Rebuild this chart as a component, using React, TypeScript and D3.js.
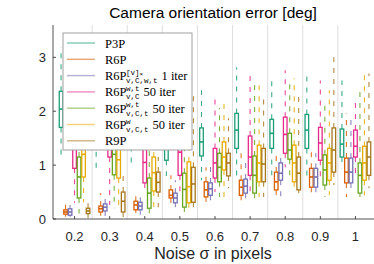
import React from "react"
import * as d3 from "d3"

// noise levels (x groups)
const noiseLevels = ["0.2", "0.3", "0.4", "0.5", "0.6", "0.7", "0.8", "0.9", "1"]
const methodKeys = ["p3p", "r6p", "r6pv", "r6pwt", "r6pwtc", "r6pw", "r9p"]
const methodColors = ["#1b9e77", "#d95f02", "#7570b3", "#e7298a", "#66a61e", "#e6ab02", "#a6761d"]
const yTicks = [0, 1, 2, 3]

// [whisker low, q1, median, q3, whisker high] per noise level
const p3pStats = [
  [1.09, 1.7, 2.04, 2.37, 3.19], [0.85, 1.45, 1.8, 2.1, 2.9], [1.05, 1.55, 1.9, 2.2, 3.0],
  [0.8, 1.09, 1.4, 1.7, 2.5], [0.72, 1.17, 1.43, 1.69, 2.39], [0.76, 1.31, 1.65, 1.96, 2.81],
  [0.81, 1.31, 1.59, 1.85, 2.57], [0.72, 1.31, 1.65, 1.94, 2.7], [0.94, 1.15, 1.39, 1.67, 2.57],
]
const r6pStats = [
  [0.04, 0.09, 0.13, 0.17, 0.31], [0.06, 0.13, 0.19, 0.24, 0.48], [0.11, 0.17, 0.26, 0.33, 0.5],
  [0.26, 0.39, 0.44, 0.54, 0.81], [0.26, 0.41, 0.54, 0.69, 0.96], [0.31, 0.44, 0.59, 0.72, 1.28],
  [0.35, 0.54, 0.69, 0.87, 1.22], [0.44, 0.59, 0.78, 0.94, 1.28], [0.41, 0.67, 0.87, 1.13, 1.96],
]
const r6pvStats = [
  [0.04, 0.07, 0.13, 0.19, 0.26], [0.04, 0.15, 0.22, 0.28, 0.44], [0.07, 0.17, 0.24, 0.31, 0.44],
  [0.22, 0.3, 0.39, 0.48, 0.72], [0.26, 0.44, 0.56, 0.67, 1.04], [0.31, 0.48, 0.61, 0.74, 1.04],
  [0.39, 0.72, 0.85, 1.04, 1.22], [0.44, 0.59, 0.78, 0.94, 1.22], [0.48, 0.67, 0.87, 1.13, 1.89],
]
const r6pwtStats = [
  [0.3, 0.94, 1.3, 1.6, 2.5], [0.26, 1.15, 1.5, 1.8, 2.6], [0.5, 0.67, 1.05, 1.45, 2.4],
  [0.44, 0.81, 1.24, 1.41, 2.3], [0.5, 0.76, 1.04, 1.31, 2.3], [0.48, 0.81, 1.15, 1.54, 2.76],
  [0.96, 1.22, 1.57, 1.89, 2.76], [0.78, 1.09, 1.41, 1.7, 2.57], [0.81, 1.15, 1.35, 1.65, 2.26],
]
const r6pwtcStats = [
  [0.1, 0.39, 0.78, 1.15, 1.9], [0.2, 0.82, 1.2, 1.5, 2.2], [0.05, 0.2, 0.48, 0.76, 1.3],
  [0.13, 0.22, 0.55, 0.85, 1.83], [0.41, 0.69, 0.96, 1.22, 2.06], [0.31, 0.48, 0.81, 1.17, 2.52],
  [0.78, 1.11, 1.28, 1.59, 2.57], [0.41, 0.63, 0.91, 1.19, 2.17], [0.41, 0.48, 0.81, 1.04, 2.43],
]
const r6pwStats = [
  [0.31, 0.78, 1.2, 1.55, 2.3], [0.26, 0.76, 1.1, 1.5, 2.3], [0.2, 0.52, 0.86, 1.15, 1.8],
  [0.17, 0.3, 0.6, 1.06, 1.9], [0.41, 0.91, 1.15, 1.43, 2.15], [0.41, 0.69, 1.04, 1.37, 2.57],
  [0.54, 0.69, 1.04, 1.37, 2.61], [0.44, 0.72, 1.04, 1.31, 2.39], [0.44, 0.72, 1.04, 1.35, 2.67],
]
const r9pStats = [
  [0.02, 0.1, 0.15, 0.2, 0.4], [0.03, 0.13, 0.33, 0.5, 0.8], [0.22, 0.5, 0.68, 0.87, 1.15],
  [0.2, 0.31, 0.65, 0.96, 2.35], [0.57, 0.8, 1.04, 1.22, 1.87], [0.41, 0.69, 1.02, 1.31, 2.3],
  [0.48, 0.54, 0.85, 1.15, 2.3], [0.63, 0.87, 1.28, 1.69, 3.0], [0.57, 0.81, 1.15, 1.43, 2.7],
]
const allStats = [p3pStats, r6pStats, r6pvStats, r6pwtStats, r6pwtcStats, r6pwStats, r9pStats]

// legend: base name, superscript, subscript, trailing text
const legendBase = ["P3P", "R6P", "R6P", "R6P", "R6P", "R6P", "R9P"]
const legendSup = ["", "", "[v]", "w,t", "w,t", "w", ""]
const legendSub = ["", "", "v,C,w,t", "v,C", "v,C,t", "v,C,t", ""]
const legendTail = ["", "", "1 iter", "50 iter", "50 iter", "50 iter", ""]

const W = 374
const H = 264
const margin = { top: 25, right: 1, bottom: 45, left: 53 }

const App: React.FC = () => {
  const x = d3.scaleBand().domain(noiseLevels).range([57, 373]).paddingInner(0)
  const inner = d3.scalePoint().domain(methodKeys).range([-13.5, 13.5])
  const y = d3.scaleLinear().domain([0, 3.6]).range([H - margin.bottom + 0, margin.top])
  const y0 = y(0)
  const boxW = 3.6
  const sans = "'Liberation Sans', Arial, sans-serif"
  const serif = "'Liberation Serif', 'DejaVu Serif', serif"
  const mono = "'Liberation Mono', 'DejaVu Sans Mono', monospace"

  const separators = noiseLevels.slice(1).map(g => x(g) as number)

  const lgX = 63, lgY = 33, lgW = 129, lgH = 117
  const rowStep = 16.3
  const monoW = 7.5 * 0.6

  return (
    <svg width={W} height={H} style={{ position: "absolute", left: 0, top: 0, background: "#fff" }}>
      {/* group separators */}
      {separators.map((sx, i) => (
        <line key={i} x1={sx} x2={sx} y1={margin.top} y2={y0} stroke="#dedede" strokeWidth={1} />
      ))}

      {/* box plots */}
      {methodKeys.map((m, mi) => (
        <g key={m} stroke={methodColors[mi]} fill="none">
          {allStats[mi].map((s, gi) => {
            const cx = (x(noiseLevels[gi]) as number) + x.bandwidth() / 2 + (inner(m) as number)
            const [lo, q1, med, q3, hi] = s
            return (
              <g key={gi}>
                <line x1={cx} x2={cx} y1={y(q3)} y2={y(hi)} strokeDasharray="5,6" strokeWidth={1.1} strokeOpacity={0.85} />
                <line x1={cx} x2={cx} y1={y(q1)} y2={y(lo)} strokeDasharray="5,6" strokeWidth={1.1} strokeOpacity={0.85} />
                <rect x={cx - boxW / 2} y={y(q3)} width={boxW} height={y(q1) - y(q3)} strokeWidth={1.3} />
                <line x1={cx - boxW / 2} x2={cx + boxW / 2} y1={y(med)} y2={y(med)} strokeWidth={1.6} />
              </g>
            )
          })}
        </g>
      ))}

      {/* axes */}
      <line x1={margin.left} x2={margin.left} y1={margin.top} y2={y0} stroke="#262626" strokeWidth={0.8} />
      <line x1={margin.left} x2={W} y1={y0} y2={y0} stroke="#262626" strokeWidth={0.8} />
      {yTicks.map(t => (
        <g key={t}>
          <line x1={margin.left} x2={margin.left + 3} y1={y(t)} y2={y(t)} stroke="#262626" strokeWidth={0.8} />
          <text x={margin.left - 7} y={y(t) + 4.5} textAnchor="end" fontFamily={sans} fontSize={13} fill="#262626">{t}</text>
        </g>
      ))}
      {noiseLevels.map(g => {
        const cx = (x(g) as number) + x.bandwidth() / 2
        return (
          <g key={g}>
            <line x1={cx} x2={cx} y1={y0} y2={y0 - 3} stroke="#262626" strokeWidth={0.8} />
            <text x={cx} y={y0 + 22} textAnchor="middle" fontFamily={sans} fontSize={13} fill="#262626">{g}</text>
          </g>
        )
      })}

      <text x={213} y={18} textAnchor="middle" fontFamily={sans} fontSize={15.5} fill="#000">Camera orientation error [deg]</text>
      <text x={213} y={259} textAnchor="middle" fontFamily={sans} fontSize={16} fill="#262626">Noise σ in pixels</text>

      {/* legend */}
      <g>
        <rect x={lgX} y={lgY} width={lgW} height={lgH} fill="#fff" stroke="#a0a0a0" strokeWidth={1} />
        {methodKeys.map((m, i) => {
          const cy = lgY + 10 + i * rowStep
          const tx = 105
          const baseW = 21
          const scriptW = Math.max(legendSub[i].length, legendSup[i].length + (i === 2 ? 1 : 0)) * monoW
          return (
            <g key={m}>
              <line x1={67} x2={95} y1={cy} y2={cy} stroke={methodColors[i]} strokeOpacity={0.55} strokeWidth={1.4} />
              <text x={tx} y={cy + 4.5} fontFamily={serif} fontSize={12.5} fill="#000">{legendBase[i]}</text>
              {legendSup[i] && (
                <text x={tx + baseW} y={cy - 1} fontFamily={mono} fontSize={7.5} fill="#000">
                  {legendSup[i]}
                  {i === 2 && <tspan fontSize={6} dy={1.5}>×</tspan>}
                </text>
              )}
              {legendSub[i] && (
                <text x={tx + baseW} y={cy + 7.5} fontFamily={mono} fontSize={7.5} fill="#000">{legendSub[i]}</text>
              )}
              {legendTail[i] && (
                <text x={tx + baseW + scriptW + 4} y={cy + 4.5} fontFamily={serif} fontSize={12.5} fill="#000">{legendTail[i]}</text>
              )}
            </g>
          )
        })}
      </g>
    </svg>
  )
}

export default App
